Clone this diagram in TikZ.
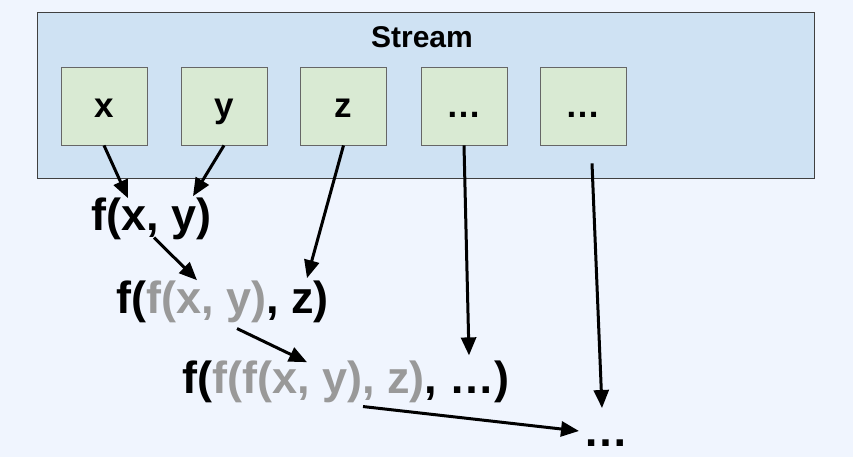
\documentclass[tikz,border=0pt]{standalone}
\usepackage{fontspec}
\setmainfont{Liberation Sans}
\usetikzlibrary{arrows.meta,calc}
\definecolor{bgc}{HTML}{F0F5FE}
\definecolor{streamc}{HTML}{CFE2F3}
\definecolor{boxc}{HTML}{D9EAD3}
\definecolor{greyt}{HTML}{999999}
\begin{document}
\begin{tikzpicture}[x=1pt,y=-1pt,
  elem/.style={draw=black!60, line width=0.8pt, fill=boxc, minimum width=86pt, minimum height=78pt,
    inner sep=0pt, text height=24pt, text depth=0pt, font=\fontsize{35}{40}\selectfont\bfseries},
  expr/.style={anchor=base west, inner sep=0pt, font=\fontsize{45}{52}\selectfont\bfseries},
  conn/.style={line width=3pt, -{Triangle[length=18pt,width=15pt]}}]
\fill[bgc] (0,0) rectangle (853,457);
\useasboundingbox (0,0) rectangle (853,457);
\node[draw=black!75, line width=0.8pt, fill=streamc, anchor=north west, minimum width=777pt, minimum height=166pt, inner sep=0pt] (stream) at (37,12) {};
\node[anchor=base, inner sep=0pt, font=\fontsize{30}{36}\selectfont\bfseries] (title) at (422,48) {Stream};
\node[elem] (bx) at (104,106) {x};
\node[elem] (by) at (224,106) {y};
\node[elem] (bz) at (343.5,106) {z};
\node[elem] (bd1) at (464,106) {…};
\node[elem] (bd2) at (583,106) {…};
\node[expr] (l1) at (91,230) {f(x, y)};
\node[expr] (l2) at (116,313) {f(\textcolor{greyt}{f(x, y)}, z)};
\node[expr] (l3) at (182,393) {f(\textcolor{greyt}{f(f(x, y), z)}, …)};
\node[expr] (fin) at (583,446) {…};
\draw[conn] (bx.south) -- ($(l1.north west)+(37,1)$);
\draw[conn] (by.south) -- ($(l1.north west)+(102,-1)$);
\draw[conn] (bz.south) -- ($(l2.north west)+(191,-2)$);
\draw[conn] ($(l1.south west)+(63,-2)$) -- ($(l2.north west)+(81,0)$);
\draw[conn] ($(l2.south west)+(121,6)$) -- ($(l3.north west)+(125,2)$);
\draw[conn] (bd1.south) -- ($(bd1.south)+(5,210)$);
\draw[conn] ($(bd2.south)+(9,18)$) -- ($(fin.base west)+(19,-38)$);
\draw[conn] ($(l3.south west)+(181,4)$) -- ($(fin.base west)+(-4,-15)$);
\end{tikzpicture}
\end{document}
